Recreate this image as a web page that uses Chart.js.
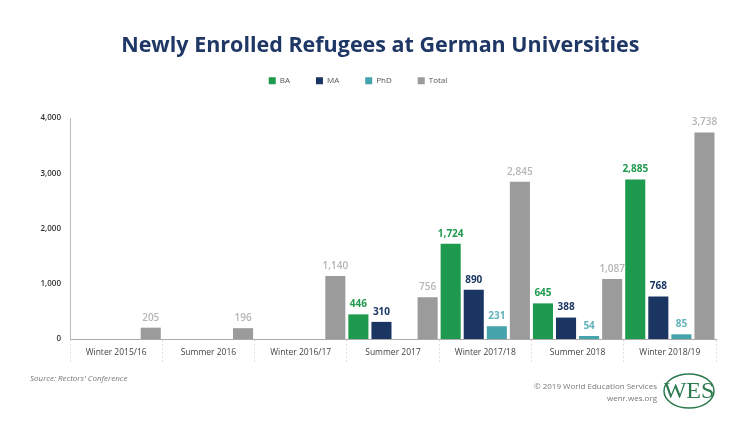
<!DOCTYPE html>
<html>
<head>
<meta charset="utf-8" />
<title>Newly Enrolled Refugees</title>
<script src="https://cdn.jsdelivr.net/npm/chart.js@4"></script>
<style>
  html, body { margin: 0; padding: 0; background: #fff; }
  #wrap { width: 740px; height: 422px; position: relative; }
</style>
</head>
<body>
<div id="wrap"><canvas id="joonis"></canvas></div>
<script>
// data
const semestrid = ["Winter 2015/16", "Summer 2016", "Winter 2016/17", "Summer 2017", "Winter 2017/18", "Summer 2018", "Winter 2018/19"];
const ba    = [null, null, null, 446, 1724, 645, 2885];
const ma    = [null, null, null, 310, 890, 388, 768];
const phd   = [null, null, null, null, 231, 54, 85];
const total = [205, 196, 1140, 756, 2845, 1087, 3738];
const yTicks = [0, 1000, 2000, 3000, 4000];

const labelColors = ["#1f9a4e", "#1c3763", "#5fb3b9", "#b5b5b5"];

// numbers above the bars
const barLabels = {
  id: "barLabels",
  afterDatasetsDraw(chart) {
    const c = chart.ctx;
    c.save();
    c.textAlign = "center";
    c.textBaseline = "bottom";
    chart.data.datasets.forEach((ds, i) => {
      const meta = chart.getDatasetMeta(i);
      meta.data.forEach((bar, j) => {
        const v = ds.data[j];
        if (v == null) return;
        c.font = (i == 3 ? "600 " : "bold ") + "10px 'Open Sans'";
        c.fillStyle = labelColors[i];
        c.fillText(v.toLocaleString("en-US"), bar.x, bar.y - 5);
      });
    });
    c.restore();
  }
};

// source line, copyright and logo
const footer = {
  id: "footer",
  afterDraw(chart) {
    const c = chart.ctx;
    c.save();
    c.fillStyle = "#777";
    c.font = "italic 8px 'Open Sans'";
    c.textAlign = "left";
    c.textBaseline = "middle";
    c.fillText("Source: Rectors' Conference", 30, 379);
    c.font = "8px 'Open Sans'";
    c.textAlign = "right";
    c.fillText("\u00a9 2019 World Education Services", 657, 387);
    c.fillText("wenr.wes.org", 657, 399);
    c.strokeStyle = "#2d7a4f";
    c.lineWidth = 1.5;
    c.beginPath();
    c.ellipse(689, 391, 25, 17, 0, 0, Math.PI * 2);
    c.stroke();
    c.fillStyle = "#2d7a4f";
    c.font = "24px 'Liberation Serif'";
    c.textAlign = "center";
    c.fillText("WES", 689, 392);
    c.restore();
  }
};

new Chart(document.getElementById("joonis"), {
  type: "bar",
  data: {
    labels: semestrid,
    datasets: [
      { label: "BA", data: ba, backgroundColor: "#1e9a4f" },
      { label: "MA", data: ma, backgroundColor: "#1b3562" },
      { label: "PhD", data: phd, backgroundColor: "#44a3ab" },
      { label: "Total", data: total, backgroundColor: "#9b9b9b" }
    ]
  },
  options: {
    responsive: true,
    maintainAspectRatio: false,
    animation: false,
    barPercentage: 0.87,
    categoryPercentage: 1.0,
    layout: { padding: { left: 0, right: 24, top: 0, bottom: 53 } },
    plugins: {
      tooltip: { enabled: false },
      title: {
        display: true,
        // leading spaces nudge the centred title to the right
        text: "\u00a0".repeat(8) + "Newly Enrolled Refugees at German Universities",
        color: "#1f3765",
        font: { family: "'Open Sans'", size: 21.5, weight: "bold" },
        padding: { top: 33, bottom: -8 }
      },
      // empty spacer between legend and plot
      subtitle: {
        display: true,
        text: " ",
        weight: 500,
        font: { size: 1 },
        padding: { top: 11, bottom: 11 }
      },
      legend: {
        labels: {
          boxWidth: 7,
          boxHeight: 7,
          padding: 26,
          color: "#555",
          font: { family: "'Open Sans'", size: 8 }
        }
      }
    },
    scales: {
      x: {
        grid: {
          display: true,
          drawOnChartArea: false,
          drawTicks: true,
          tickLength: 24,
          color: "#e2e2e2",
          tickBorderDash: [2, 2]
        },
        border: { display: true, color: "#aaa", width: 1 },
        ticks: {
          padding: -16,
          color: "#444",
          font: { family: "'Open Sans'", size: 8.5 }
        },
        afterFit(s) { s.height = 30; }
      },
      y: {
        min: 0,
        max: 4000,
        afterBuildTicks(s) { s.ticks = yTicks.map(v => ({ value: v })); },
        grid: { display: false, drawTicks: true, tickLength: 4, color: "#bbb" },
        border: { display: true, color: "#bbb" },
        ticks: {
          color: "#333",
          padding: 5,
          font: { family: "'Open Sans'", size: 8, weight: "600" },
          callback: v => v.toLocaleString("en-US")
        },
        afterFit(s) { s.width = 70; }
      }
    }
  },
  plugins: [barLabels, footer]
});
</script>
</body>
</html>
